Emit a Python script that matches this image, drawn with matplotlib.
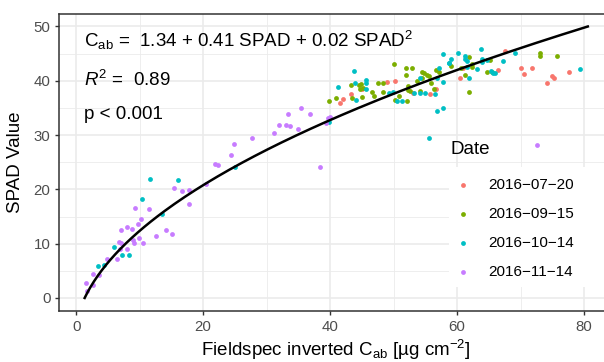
import matplotlib
matplotlib.use('Agg')
import matplotlib.pyplot as plt
from matplotlib.patches import Rectangle
import numpy as np

plt.rcParams['font.family'] = ['Liberation Sans', 'DejaVu Sans']
plt.rcParams['mathtext.fontset'] = 'custom'
plt.rcParams['mathtext.rm'] = 'Liberation Sans'
plt.rcParams['mathtext.it'] = 'Liberation Sans:italic'
plt.rcParams['mathtext.bf'] = 'Liberation Sans:bold'

# data: (Fieldspec Cab, SPAD) per date
dates = ['2016−07−20', '2016−09−15', '2016−10−14', '2016−11−14']
colors = ['#F8766D', '#7CAE00', '#00BFC4', '#C77CFF']

jul_x = [41.6, 42.1, 43.3, 45.1, 49.0, 50.2, 53.0, 55.7, 56.7, 60.5, 61.0,
         66.4, 67.6, 70.0, 70.6, 71.8, 74.2, 74.9, 75.2, 77.6]
jul_y = [35.9, 36.6, 37.5, 38.5, 39.7, 40.0, 37.7, 37.5, 38.4, 40.5, 42.4,
         42.0, 45.5, 42.4, 41.2, 42.3, 39.5, 40.8, 40.6, 41.6]

sep_x = [39.9, 40.9, 43.4, 43.3, 44.8, 44.7, 45.2, 45.1, 46.6, 46.9, 47.6,
         48.4, 48.3, 50.0, 50.2, 50.9, 52.0, 52.9, 52.0, 52.1, 52.2, 52.3,
         52.6, 53.7, 54.4, 54.8, 55.2, 55.6, 54.1, 55.9, 56.7, 57.1, 60.6,
         61.3, 61.9, 59.0, 61.9, 62.3, 62.4, 64.7, 65.5, 65.2, 73.0, 73.0,
         75.7, 44.6, 54.4, 56.3]
sep_y = [36.3, 36.8, 36.8, 39.2, 39.4, 38.4, 38.7, 37.1, 38.0, 37.2, 39.5,
         39.5, 38.0, 43.1, 36.5, 37.2, 42.3, 42.3, 41.1, 36.2, 39.1, 38.3,
         38.1, 39.9, 41.6, 41.5, 41.1, 40.9, 38.2, 39.5, 42.0, 41.6, 42.4,
         41.1, 38.0, 42.8, 44.3, 43.1, 42.6, 41.7, 41.7, 43.8, 45.2, 44.5,
         44.5, 39.2, 40.6, 38.4]

oct_x = [3.5, 4.4, 6.0, 7.2, 8.3, 10.4, 11.7, 13.6, 16.0, 25.0, 39.8,
         41.2, 43.9, 43.7, 44.1, 45.7, 45.7, 45.6, 49.2, 49.9, 50.5, 51.3,
         53.2, 54.2, 54.1, 55.0, 56.5, 56.9, 57.8, 56.9, 57.8, 55.5, 57.2,
         57.8, 58.8, 59.0, 58.7, 60.1, 61.3, 61.3, 61.5, 61.5, 61.8, 63.7,
         64.0, 64.0, 64.7, 63.2, 65.3, 65.6, 65.9, 67.3, 69.1, 79.4]
oct_y = [5.8, 6.0, 9.3, 7.9, 7.9, 18.2, 22.0, 15.5, 21.7, 24.2, 32.4,
         38.9, 39.6, 41.8, 36.5, 39.5, 38.4, 40.2, 37.8, 38.0, 36.3, 36.3,
         37.8, 40.5, 37.8, 37.7, 37.5, 40.6, 39.8, 34.5, 35.0, 29.4, 42.4,
         44.9, 43.3, 44.0, 43.2, 45.2, 44.0, 44.6, 43.7, 42.6, 40.5, 45.8,
         44.0, 43.4, 43.8, 42.1, 41.8, 41.5, 41.5, 43.6, 45.2, 42.1]

nov_x = [1.6, 1.7, 2.7, 2.7, 3.6, 4.9, 6.4, 6.8, 7.1, 6.9, 8.0, 7.0, 8.0,
         8.8, 9.7, 10.2, 9.3, 11.5, 8.9, 9.1, 9.9, 10.6, 12.5, 14.1, 15.1,
         15.4, 16.7, 17.8, 17.7, 20.4, 21.9, 22.4, 24.4, 24.8, 27.7, 31.2,
         32.0, 33.1, 33.7, 33.4, 35.0, 35.4, 36.9, 38.4, 39.4, 39.6, 40.0,
         72.6]
nov_y = [2.8, 1.3, 4.4, 2.3, 4.2, 7.1, 7.2, 10.3, 10.1, 9.0, 9.0, 12.5,
         13.0, 12.7, 13.6, 14.5, 16.6, 16.4, 10.6, 10.1, 11.0, 10.1, 11.5,
         12.5, 11.8, 20.3, 19.7, 19.8, 17.3, 20.9, 24.7, 24.5, 26.4, 28.3,
         29.5, 30.4, 31.9, 31.8, 31.7, 33.9, 31.1, 34.9, 33.9, 24.2, 32.2,
         33.1, 33.3, 28.2]

# quadratic fit, Cab as function of SPAD
fit_coef = [1.34, 0.41, 0.0235]
fit_spad_range = [0, 50]

series_x = [jul_x, sep_x, oct_x, nov_x]
series_y = [jul_y, sep_y, oct_y, nov_y]

fig = plt.figure(figsize=(6.04, 3.62), dpi=100)
W, H = 604, 362
ax = fig.add_axes([59 / W, 51 / H, 553 / W, 297 / H])

ax.set_xlim(-2.7, 84.4)
ax.set_ylim(-2.4, 52.3)
ax.set_xticks([0, 20, 40, 60, 80])
ax.set_yticks([0, 10, 20, 30, 40, 50])
ax.set_xticks([10, 30, 50, 70], minor=True)
ax.set_yticks([5, 15, 25, 35, 45], minor=True)
ax.set_axisbelow(True)
ax.grid(which='major', color='#EBEBEB', linewidth=1.2)
ax.grid(which='minor', color='#EBEBEB', linewidth=0.6)
ax.tick_params(which='minor', length=0)
ax.tick_params(which='major', length=3.2, width=1.0, color='#333333',
               labelcolor='#4D4D4D', labelsize=10.8, pad=3)
for s in ax.spines.values():
    s.set_color('#333333')
    s.set_linewidth(1.1)

# white legend background
ax.add_patch(Rectangle((0.705, 0.081), 0.4, 0.404, transform=ax.transAxes,
                       facecolor='white', edgecolor='none', zorder=0.8))

handles = []
for xs, ys, c, lab in zip(series_x, series_y, colors, dates):
    h = ax.scatter(xs, ys, s=12, color=c, linewidths=0, zorder=2, label=lab)
    handles.append(h)

spad = np.linspace(fit_spad_range[0], fit_spad_range[1], 200)
cab = fit_coef[0] + fit_coef[1] * spad + fit_coef[2] * spad ** 2
ax.plot(cab, spad, color='black', linewidth=1.8, zorder=3)

ax.text(1.3, 47.5, r'C$_{\mathrm{ab}}$ =  1.34 + 0.41 SPAD + 0.02 SPAD$^{2}$',
        fontsize=13.5, va='center', ha='left')
ax.text(1.3, 40.2, r'$R^{\mathrm{2}}$ =  0.89', fontsize=13.5, va='center', ha='left')
ax.text(1.3, 33.8, 'p < 0.001', fontsize=13.5, va='center', ha='left')

ax.set_xlabel(r'Fieldspec inverted C$_{\mathrm{ab}}$ [µg cm$^{\mathrm{-2}}$]',
              fontsize=13.5, labelpad=3)
ax.set_ylabel('SPAD Value', fontsize=13.5, labelpad=7)

ax.text((450 - 59) / 553, (311 - 150) / 297, 'Date', transform=ax.transAxes,
        fontsize=13.5, va='center', ha='left')
ax.legend(handles=handles, loc='upper left', bbox_to_anchor=((450 - 59) / 553, 0.447),
          frameon=False, fontsize=11, borderpad=0, handlelength=1.7,
          handletextpad=0.8, labelspacing=0.98, markerscale=1.0,
          borderaxespad=0)

fig.savefig('out.png', dpi=100)
